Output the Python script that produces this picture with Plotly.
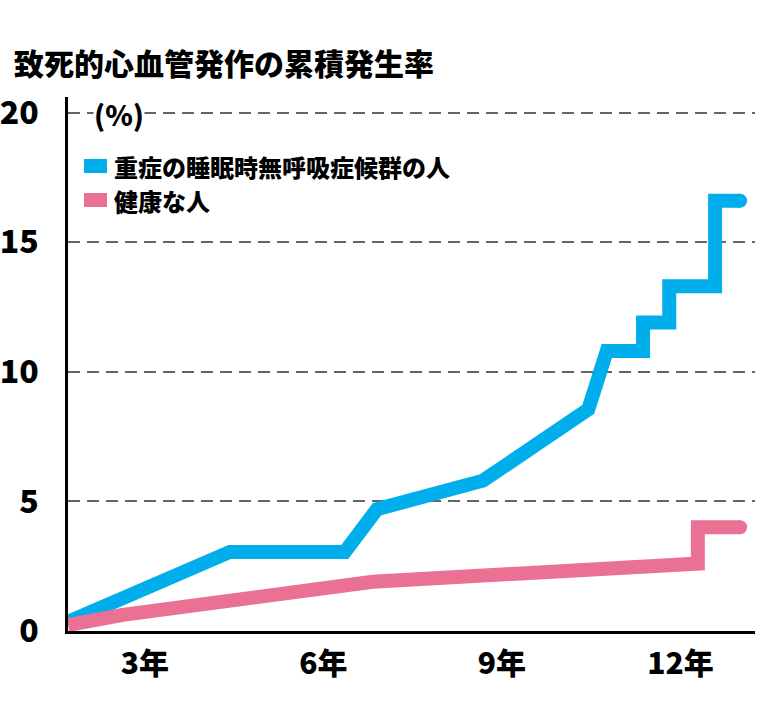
import plotly.graph_objects as go

# data (years, cumulative %)
sasYears = [1.71, 4.43, 6.36, 6.9, 8.68, 10.45, 10.76, 11.37, 11.37, 11.81, 11.81, 12.58, 12.58, 13.0]
sasRate = [0.35, 3.05, 3.05, 4.7, 5.8, 8.55, 10.8, 10.8, 11.9, 11.9, 13.3, 13.3, 16.6, 16.6]
healthyYears = [1.71, 2.63, 6.83, 12.29, 12.29, 13.0]
healthyRate = [0.23, 0.62, 1.9, 2.6, 4.0, 4.0]
xTicks = [3, 6, 9, 12]
xLabels = ["3年", "6年", "9年", "12年"]
yTicks = [0, 5, 10, 15, 20]
sasName = "重症の睡眠時無呼吸症候群の人"
healthyName = "健康な人"

blue = "#00AEEB"
pink = "#EA7094"
font = "Noto Sans CJK JP"

W, H = 770, 720
L, R, T, B = 68, 15, 97, 89

def px(x):
    return (x - L) / (W - L - R)

def py(y):
    return (H - B - y) / (H - T - B)

fig = go.Figure()
fig.add_trace(go.Scatter(x=sasYears, y=sasRate, mode="lines", name=sasName,
                         line=dict(color=blue, width=14)))
fig.add_trace(go.Scatter(x=[sasYears[-1]], y=[sasRate[-1]], mode="markers",
                         marker=dict(color=blue, size=14), showlegend=False))
fig.add_trace(go.Scatter(x=healthyYears, y=healthyRate, mode="lines", name=healthyName,
                         line=dict(color=pink, width=14)))
fig.add_trace(go.Scatter(x=[healthyYears[-1]], y=[healthyRate[-1]], mode="markers",
                         marker=dict(color=pink, size=14), showlegend=False))

fig.update_layout(
    width=W, height=H,
    margin=dict(l=L, r=R, t=T, b=B, autoexpand=False),
    plot_bgcolor="white", paper_bgcolor="white",
    showlegend=False,
    font=dict(family=font, color="black"),
    title=dict(text="致死的心血管発作の累積発生率", x=14 / W, xanchor="left", xref="container",
               y=1 - 64 / H, yanchor="middle", yref="container",
               font=dict(size=30, weight=900, family=font, color="black")),
)
fig.update_xaxes(range=[1.71, 13.25], tickvals=xTicks, ticktext=xLabels, showgrid=False,
                 zeroline=False, showline=True, linecolor="black", linewidth=2.5,
                 ticks="", ticklabelstandoff=4, automargin=False,
                 tickfont=dict(size=30, weight=900, family=font, color="black"))
fig.update_yaxes(range=[0, 20.6], tickvals=yTicks, showgrid=True, gridcolor="#666666",
                 gridwidth=2, griddash="12px,7px", zeroline=False, showline=True,
                 linecolor="black", linewidth=2.5, ticks="", ticklabelstandoff=20,
                 automargin=False,
                 tickfont=dict(size=32, weight=900, family=font, color="black"))

fig.add_annotation(text="(%)", xref="paper", yref="paper", x=px(93), y=py(114),
                   xanchor="left", yanchor="middle", showarrow=False,
                   font=dict(size=28, weight=900, family=font, color="black"),
                   bgcolor="white", borderpad=0)

# legend swatches and labels
for name, color, cy in [(sasName, blue, 166), (healthyName, pink, 200)]:
    fig.add_shape(type="rect", xref="paper", yref="paper",
                  x0=px(84), x1=px(107), y0=py(cy - 7), y1=py(cy + 7),
                  fillcolor=color, line=dict(width=0))
    fig.add_annotation(text=name, xref="paper", yref="paper", x=px(113), y=py(cy),
                       xanchor="left", yanchor="middle", showarrow=False, borderpad=0,
                       font=dict(size=24, weight=900, family=font, color="black"))

fig.write_html("out.html", config={"displayModeBar": False},
               post_script="document.body.style.margin = '0';")
